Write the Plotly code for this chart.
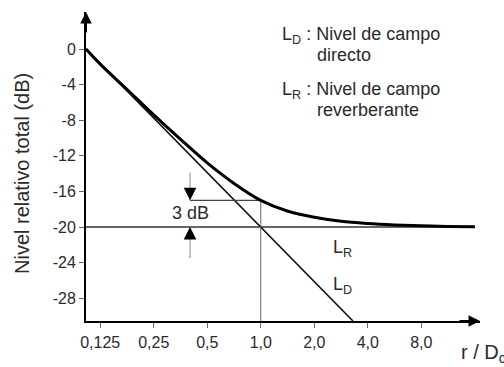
import math
import plotly.graph_objects as go

# ---- data ----
r_total = [0.104, 0.125, 0.177, 0.25, 0.354, 0.5, 0.707, 1.0, 1.41, 2.0, 2.83, 4.0, 5.66, 8.0, 11.3, 16.0]
total_db = [0.0, -1.7, -4.55, -7.4, -10.15, -12.8, -15.1, -17.0, -18.2, -18.9, -19.35, -19.6, -19.76, -19.87, -19.94, -19.98]

r_direct = [0.104, 1.0, 3.3]
direct_db = [0.0, -20.0, -30.56]

r_reverb = [0.104, 16.0]
reverb_db = [-20.0, -20.0]

r_ref = 1.0          # critical distance
ref_total_db = -17.0
arrow_r = 0.40       # position of the 3 dB arrows
arrow_top_db = -13.9
arrow_bottom_db = -23.5

x_ticks = [0.125, 0.25, 0.5, 1.0, 2.0, 4.0, 8.0]
x_ticktext = ["0,125", "0,25", "0,5", "1,0", "2,0", "4,0", "8,0"]
y_ticks = [0, -4, -8, -12, -16, -20, -24, -28]
y_ticktext = ["0", "-4", "-8", "-12", "-16", "-20", "-24", "-28"]

x_range = [0.104, 17.1]
y_range = [-30.56, 4.16]

# ---- layout geometry (pixels) ----
W, H = 504, 367
L, R, T, B = 86, 24, 12, 46
pw, ph = W - L - R, H - T - B

def px(x):
    return (x - L) / pw

def py(y):
    return (H - B - y) / ph

FONT = "Arial, Liberation Sans, Helvetica, sans-serif"
TXT = "#2a2a2a"
GRAY = "#666666"

fig = go.Figure()

# reverberant level
fig.add_trace(go.Scatter(x=r_reverb, y=reverb_db, mode="lines",
                         line=dict(color="#333333", width=1.5), hoverinfo="skip"))
# direct level
fig.add_trace(go.Scatter(x=r_direct, y=direct_db, mode="lines",
                         line=dict(color="#111111", width=1.6), hoverinfo="skip"))
# helper lines at r = 1
fig.add_trace(go.Scatter(x=[r_ref, r_ref], y=[y_range[0], ref_total_db], mode="lines",
                         line=dict(color=GRAY, width=1), hoverinfo="skip"))
fig.add_trace(go.Scatter(x=[arrow_r, r_ref], y=[ref_total_db, ref_total_db], mode="lines",
                         line=dict(color="#444444", width=1.2), hoverinfo="skip"))
# arrow shafts
fig.add_trace(go.Scatter(x=[arrow_r, arrow_r], y=[arrow_top_db, ref_total_db], mode="lines",
                         line=dict(color="#888888", width=1), hoverinfo="skip"))
fig.add_trace(go.Scatter(x=[arrow_r, arrow_r], y=[reverb_db[0], arrow_bottom_db], mode="lines",
                         line=dict(color="#888888", width=1), hoverinfo="skip"))
# total level
fig.add_trace(go.Scatter(x=r_total, y=total_db, mode="lines", line_shape="spline",
                         line=dict(color="#000000", width=3), hoverinfo="skip"))

ann = []
# axis arrows
ann.append(dict(x=0, y=1, xref="paper", yref="paper", ax=0, ay=22,
                text="", showarrow=True, arrowhead=2, arrowwidth=2, arrowsize=1.15, arrowcolor="#000"))
ann.append(dict(x=1, y=0, xref="paper", yref="paper", ax=-22, ay=0,
                text="", showarrow=True, arrowhead=2, arrowwidth=2, arrowsize=1.15, arrowcolor="#000"))
# 3 dB arrow heads
ann.append(dict(x=math.log10(arrow_r), y=ref_total_db, xref="x", yref="y", ax=0, ay=-13,
                text="", showarrow=True, arrowhead=2, arrowwidth=1.2, arrowsize=2.1, arrowcolor="#000"))
ann.append(dict(x=math.log10(arrow_r), y=reverb_db[0], xref="x", yref="y", ax=0, ay=13,
                text="", showarrow=True, arrowhead=2, arrowwidth=1.2, arrowsize=2.1, arrowcolor="#000"))

def label(text, x, y, size, xanchor="left", angle=0, color=TXT):
    ann.append(dict(text=text, x=px(x), y=py(y), xref="paper", yref="paper",
                    xanchor=xanchor, yanchor="middle", showarrow=False, textangle=angle,
                    font=dict(family=FONT, size=size, color=color)))

label("3 dB", 190.5, 213, 18, xanchor="center")
label("L<sub>D</sub> : Nivel de campo", 280, 36, 18)
label("directo", 315, 55, 18)
label("L<sub>R</sub> : Nivel de campo", 280, 91, 18)
label("reverberante", 315, 110, 18)
label("L<sub>R</sub>", 331, 248, 18)
label("L<sub>D</sub>", 331, 285, 18)
label("Nivel relativo total (dB)", 22, 174, 20, xanchor="center", angle=-90)
label("r / D<sub>c</sub>", 459, 353, 20)

fig.update_layout(
    width=W, height=H,
    margin=dict(l=L, r=R, t=T, b=B, pad=0),
    paper_bgcolor="white", plot_bgcolor="white",
    showlegend=False,
    annotations=ann,
    xaxis=dict(type="log", range=[math.log10(x_range[0]), math.log10(x_range[1])],
               tickvals=x_ticks, ticktext=x_ticktext, ticks="outside", ticklen=5,
               tickwidth=1, tickcolor=GRAY, showgrid=False, zeroline=False,
               showline=True, linecolor="#000", linewidth=2,
               tickfont=dict(family=FONT, size=16, color=TXT), ticklabelstandoff=1),
    yaxis=dict(range=y_range, tickvals=y_ticks, ticktext=y_ticktext, ticks="outside", ticklen=5,
               tickwidth=1, tickcolor=GRAY, showgrid=False, zeroline=False,
               showline=True, linecolor="#000", linewidth=2,
               tickfont=dict(family=FONT, size=16, color=TXT)),
)

fig.write_html("out.html")
